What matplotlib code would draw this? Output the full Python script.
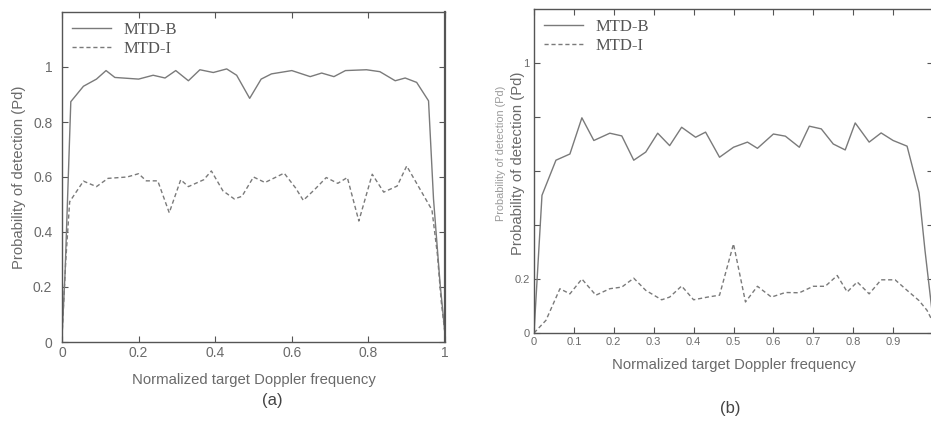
import numpy as np
import matplotlib.pyplot as plt
from matplotlib.lines import Line2D

# ---- data ----
A_B_X = [0.0, 0.008, 0.023, 0.056, 0.09, 0.115, 0.138, 0.2, 0.238, 0.269, 0.297,
         0.33, 0.36, 0.395, 0.43, 0.456, 0.49, 0.52, 0.547, 0.6, 0.648, 0.678,
         0.71, 0.74, 0.795, 0.83, 0.87, 0.896, 0.926, 0.957, 0.97, 0.987, 1.0]
A_B_Y = [0.02, 0.25, 0.874, 0.93, 0.956, 0.987, 0.962, 0.956, 0.97, 0.96, 0.987,
         0.95, 0.99, 0.98, 0.993, 0.97, 0.886, 0.956, 0.975, 0.987, 0.965, 0.978,
         0.965, 0.987, 0.99, 0.983, 0.95, 0.96, 0.944, 0.877, 0.52, 0.215, 0.03]

A_I_X = [0.0, 0.01, 0.02, 0.056, 0.09, 0.12, 0.17, 0.2, 0.22, 0.25, 0.28, 0.31,
         0.33, 0.37, 0.39, 0.42, 0.45, 0.47, 0.5, 0.53, 0.58, 0.61, 0.63, 0.66,
         0.69, 0.72, 0.745, 0.775, 0.81, 0.84, 0.875, 0.9, 0.94, 0.966, 0.98,
         0.99, 1.0]
A_I_Y = [0.02, 0.3, 0.51, 0.585, 0.565, 0.595, 0.6, 0.612, 0.586, 0.586, 0.47,
         0.59, 0.565, 0.59, 0.622, 0.55, 0.52, 0.53, 0.6, 0.58, 0.614, 0.56,
         0.515, 0.555, 0.598, 0.577, 0.598, 0.44, 0.61, 0.545, 0.567, 0.64,
         0.543, 0.48, 0.32, 0.15, 0.03]

B_B_X = [0.0, 0.02, 0.055, 0.09, 0.12, 0.15, 0.19, 0.22, 0.25, 0.28, 0.31, 0.34,
         0.37, 0.405, 0.43, 0.465, 0.5, 0.535, 0.56, 0.6, 0.63, 0.665, 0.69,
         0.72, 0.75, 0.78, 0.805, 0.84, 0.87, 0.9, 0.935, 0.965, 0.98, 1.0]
B_B_Y = [0.0, 0.51, 0.64, 0.663, 0.797, 0.713, 0.74, 0.73, 0.64, 0.67, 0.74,
         0.694, 0.762, 0.725, 0.744, 0.651, 0.688, 0.707, 0.684, 0.737, 0.729,
         0.688, 0.766, 0.756, 0.70, 0.678, 0.778, 0.707, 0.741, 0.713, 0.692,
         0.52, 0.305, 0.05]

B_I_X = [0.0, 0.03, 0.065, 0.09, 0.12, 0.155, 0.19, 0.22, 0.25, 0.28, 0.32,
         0.34, 0.37, 0.40, 0.435, 0.465, 0.5, 0.53, 0.56, 0.595, 0.63, 0.665,
         0.7, 0.73, 0.76, 0.785, 0.81, 0.84, 0.87, 0.905, 0.935, 0.965, 0.985, 1.0]
B_I_Y = [0.0, 0.047, 0.164, 0.145, 0.2, 0.14, 0.164, 0.17, 0.203, 0.158, 0.123,
         0.133, 0.174, 0.123, 0.133, 0.14, 0.33, 0.115, 0.173, 0.133, 0.15,
         0.149, 0.173, 0.173, 0.213, 0.152, 0.189, 0.145, 0.197, 0.197, 0.158,
         0.12, 0.084, 0.04]

A_XTICKS = [0, 0.2, 0.4, 0.6, 0.8, 1]
A_XLABELS = ["0", "0.2", "0.4", "0.6", "0.8", "1"]
A_YTICKS = [0, 0.2, 0.4, 0.6, 0.8, 1]
A_YLABELS = ["0", "0.2", "0.4", "0.6", "0.8", "1"]
B_XTICKS = [0, 0.1, 0.2, 0.3, 0.4, 0.5, 0.6, 0.7, 0.8, 0.9, 1]
B_XLABELS = ["0", "0.1", "0.2", "0.3", "0.4", "0.5", "0.6", "0.7", "0.8", "0.9", ""]
B_YTICKS = [0, 0.2, 0.4, 0.6, 0.8, 1]
B_YLABELS = ["0", "0.2", "", "", "", "1"]

LINE_C = "#7a7a7a"
AX_C = "#555555"
TXT_C = "#6a6a6a"
LABEL_FS = 10.7
W, H = 931, 430

plt.rcParams["font.family"] = ["Liberation Sans", "DejaVu Sans"]


def style_axes(ax, xt, xl, yt, yl, fs, ypad):
    ax.set_xlim(0, 1)
    ax.set_ylim(0, 1.2)
    ax.set_xticks(xt)
    ax.set_xticklabels(xl)
    ax.set_yticks(yt)
    ax.set_yticklabels(yl)
    ax.tick_params(direction="in", top=True, right=True, length=4, width=0.8,
                   color=AX_C, labelcolor=TXT_C, labelsize=fs, pad=3)
    ax.tick_params(axis="y", pad=ypad)
    for s in ax.spines.values():
        s.set_color(AX_C)
        s.set_linewidth(1.0)
    ax.spines["right"].set_linewidth(1.6)


def add_legend(ax):
    handles = [Line2D([], [], color=LINE_C, lw=1.0, ls="-"),
               Line2D([], [], color=LINE_C, lw=1.0, ls=(0, (3, 2)))]
    ax.legend(handles, ["MTD-B", "MTD-I"], loc="upper left", frameon=False,
              prop={"family": "Liberation Serif", "size": 12}, labelcolor="#555",
              handlelength=2.35, handletextpad=0.75, borderaxespad=0.25,
              borderpad=0.35, labelspacing=0.2)


fig = plt.figure(figsize=(W / 100, H / 100), dpi=100)

# panel (a)
ax_a = fig.add_axes([62 / W, 1 - 342 / H, (445 - 62) / W, (342 - 12) / H])
ax_a.plot(A_B_X, A_B_Y, color=LINE_C, lw=1.0)
ax_a.plot(A_I_X, A_I_Y, color=LINE_C, lw=1.0, ls=(0, (3, 2)))
style_axes(ax_a, A_XTICKS, A_XLABELS, A_YTICKS, A_YLABELS, 10, 7)
add_legend(ax_a)
ax_a.set_xlabel("Normalized target Doppler frequency", fontsize=LABEL_FS,
                color=TXT_C, labelpad=9)
ax_a.set_ylabel("Probability of detection (Pd)", fontsize=LABEL_FS,
                color=TXT_C, labelpad=5)
fig.text(272 / W, 1 - 400 / H, "(a)", fontsize=12, color="#444",
         ha="center", va="center")

# panel (b)
ax_b = fig.add_axes([534 / W, 1 - 333 / H, (933 - 534) / W, (333 - 9) / H])
ax_b.plot(B_B_X, B_B_Y, color=LINE_C, lw=1.0)
ax_b.plot(B_I_X, B_I_Y, color=LINE_C, lw=1.0, ls=(0, (3, 2)))
style_axes(ax_b, B_XTICKS, B_XLABELS, B_YTICKS, B_YLABELS, 8, 3)
add_legend(ax_b)
ax_b.set_xlabel("Normalized target Doppler frequency", fontsize=LABEL_FS,
                color=TXT_C, labelpad=8)
ax_b.set_ylabel("Probability of detection (Pd)", fontsize=LABEL_FS,
                color=TXT_C)
ax_b.yaxis.set_label_coords((525 - 534) / (933 - 534), 1 - (163 - 9) / (333 - 9))
fig.text(501 / W, 1 - 153 / H, "Probability of detection (Pd)", fontsize=7.8,
         color="#9a9a9a", rotation=90, ha="center", va="center")
fig.text(730 / W, 1 - 409 / H, "(b)", fontsize=12, color="#444",
         ha="center", va="center")

fig.savefig("out.png", dpi=100)
